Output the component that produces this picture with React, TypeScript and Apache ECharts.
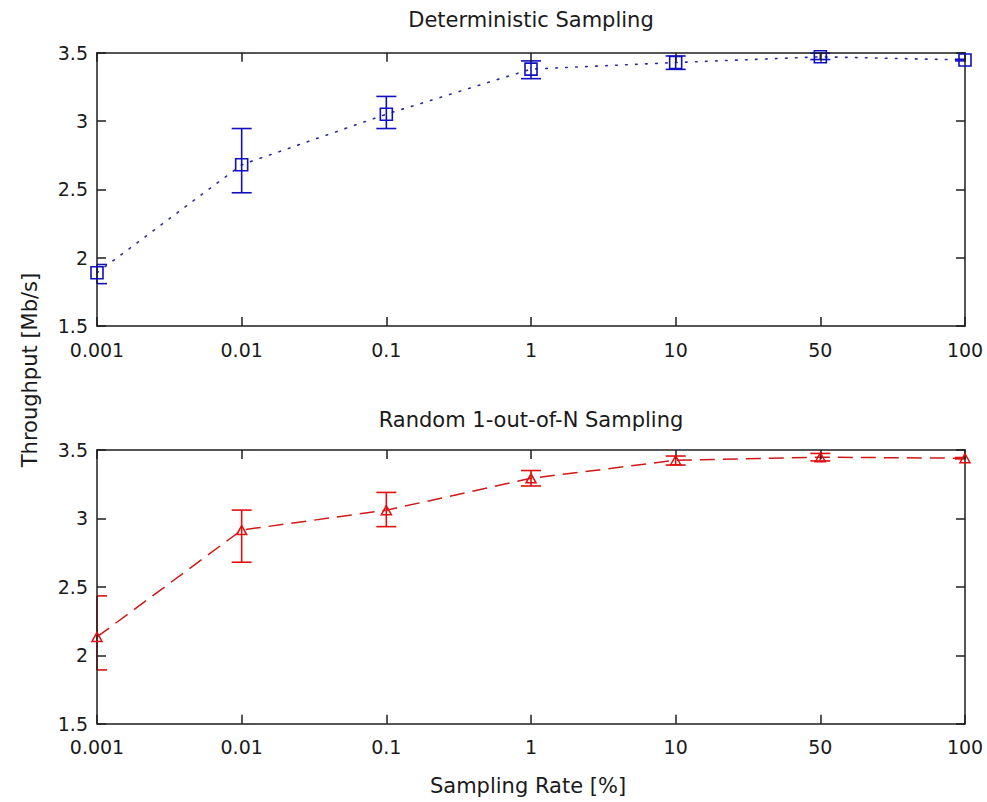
import React, { useEffect, useRef } from "react";
import * as echarts from "echarts";

const categories = ["0.001", "0.01", "0.1", "1", "10", "50", "100"];

const detMean = [1.89, 2.68, 3.05, 3.38, 3.428, 3.47, 3.447];
const detLow = [1.81, 2.475, 2.945, 3.31, 3.378, 3.45, 3.44];
const detHigh = [1.95, 2.945, 3.18, 3.44, 3.476, 3.497, 3.452];

const rndMean = [2.134, 2.915, 3.06, 3.293, 3.425, 3.447, 3.44];
const rndLow = [1.893, 2.68, 2.94, 3.237, 3.39, 3.42, 3.435];
const rndHigh = [2.434, 3.061, 3.19, 3.35, 3.456, 3.475, 3.445];

const yTicks = { min: 1.5, max: 3.5, interval: 0.5 };

const titles = ["Deterministic Sampling", "Random 1-out-of-N Sampling"];
const xAxisTitle = "Sampling Rate [%]";
const yAxisTitle = "Throughput [Mb/s]";

const FONT = "DejaVu Sans";
const TEXT = "#1a1a1a";
const AXIS = "#1e1e1e";
const BLUE = "#1010c0";
const RED = "#e01010";

function errorRender(color: string) {
  return (params: any, api: any) => {
    const idx = api.value(0);
    const lo = api.coord([idx, api.value(1)]);
    const hi = api.coord([idx, api.value(2)]);
    const cs = params.coordSys;
    const half = 10;
    const cx = lo[0];
    const x1 = Math.max(cx - half, cs.x);
    const x2 = Math.min(cx + half, cs.x + cs.width);
    const style = { stroke: color, lineWidth: 1.6, fill: null };
    const children: any[] = [
      { type: "line", shape: { x1: cx, y1: lo[1], x2: cx, y2: hi[1] }, style },
      { type: "line", shape: { x1, y1: lo[1], x2, y2: lo[1] }, style },
      { type: "line", shape: { x1, y1: hi[1], x2, y2: hi[1] }, style },
    ];
    return { type: "group", children };
  };
}

export default function App() {
  const ref = useRef<HTMLDivElement>(null);
  useEffect(() => {
    if (!ref.current) return;
    const chart = echarts.init(ref.current, undefined, { renderer: "svg" });

    const grids = [
      { left: 97, width: 868, top: 52.7, height: 273.3 },
      { left: 97, width: 868, top: 450, height: 273.7 },
    ];

    const xAxes: any[] = [];
    const yAxes: any[] = [];
    grids.forEach((_, g) => {
      const base = {
        type: "category",
        data: categories,
        gridIndex: g,
        boundaryGap: false,
        z: 5,
        axisLine: { onZero: false, lineStyle: { color: AXIS, width: 1.5 } },
        axisTick: { inside: true, length: 9, alignWithLabel: true, lineStyle: { color: AXIS, width: 1.5 } },
        splitLine: { show: false },
      };
      xAxes.push({
        ...base,
        position: "bottom",
        axisLabel: { interval: 0, fontFamily: FONT, fontSize: 19, color: TEXT, margin: 14 },
      });
      xAxes.push({ ...base, position: "top", axisLabel: { show: false } });
      const ybase = {
        type: "value",
        gridIndex: g,
        min: yTicks.min,
        max: yTicks.max,
        interval: yTicks.interval,
        z: 5,
        axisLine: { show: true, lineStyle: { color: AXIS, width: 1.5 } },
        axisTick: { show: true, inside: true, length: 9, lineStyle: { color: AXIS, width: 1.5 } },
        splitLine: { show: false },
      };
      yAxes.push({
        ...ybase,
        position: "left",
        axisLabel: {
          fontFamily: FONT,
          fontSize: 19,
          color: TEXT,
          margin: 9,
          padding: [6, 0, 0, 0],
          formatter: (v: number) => String(v),
        },
      });
      yAxes.push({ ...ybase, position: "right", axisLabel: { show: false } });
    });

    const mk = (arr: number[], lo: number[], hi: number[]) =>
      arr.map((_, i) => [i, lo[i], hi[i]]);

    const option: any = {
      animation: false,
      backgroundColor: "#ffffff",
      grid: grids,
      xAxis: xAxes,
      yAxis: yAxes,
      graphic: [
        {
          type: "text",
          x: 531,
          y: 19.6,
          style: { text: titles[0], fontFamily: FONT, fontSize: 21, fill: TEXT, textAlign: "center", textVerticalAlign: "middle" },
        },
        {
          type: "text",
          x: 531,
          y: 419.6,
          style: { text: titles[1], fontFamily: FONT, fontSize: 21, fill: TEXT, textAlign: "center", textVerticalAlign: "middle" },
        },
        {
          type: "text",
          x: 528,
          y: 785.6,
          style: { text: xAxisTitle, fontFamily: FONT, fontSize: 21, fill: TEXT, textAlign: "center", textVerticalAlign: "middle" },
        },
        {
          type: "text",
          x: 29.6,
          y: 370,
          rotation: Math.PI / 2,
          style: { text: yAxisTitle, fontFamily: FONT, fontSize: 21, fill: TEXT, textAlign: "center", textVerticalAlign: "middle" },
        },
      ],
      series: [
        {
          type: "line",
          xAxisIndex: 0,
          yAxisIndex: 0,
          data: detMean,
          showSymbol: false,
          lineStyle: { color: "#2a2a9a", width: 1.6, type: [1.6, 8.4], cap: "round" },
          z: 2,
        },
        {
          type: "custom",
          xAxisIndex: 0,
          yAxisIndex: 0,
          data: mk(detMean, detLow, detHigh),
          renderItem: errorRender(BLUE),
          z: 3,
        },
        {
          type: "scatter",
          xAxisIndex: 0,
          yAxisIndex: 0,
          data: detMean.map((v, i) => [i, v]),
          symbol: "rect",
          symbolSize: 12,
          itemStyle: { color: "rgba(0,0,0,0)", borderColor: BLUE, borderWidth: 1.6, opacity: 1 },
          z: 6,
        },
        {
          type: "line",
          xAxisIndex: 2,
          yAxisIndex: 2,
          data: rndMean,
          showSymbol: false,
          lineStyle: { color: "#d01818", width: 1.5, type: [15, 8] },
          z: 2,
        },
        {
          type: "custom",
          xAxisIndex: 2,
          yAxisIndex: 2,
          data: mk(rndMean, rndLow, rndHigh),
          renderItem: errorRender(RED),
          z: 3,
        },
        {
          type: "scatter",
          xAxisIndex: 2,
          yAxisIndex: 2,
          data: rndMean.map((v, i) => [i, v]),
          symbol: "triangle",
          symbolSize: [10, 9],
          itemStyle: { color: "rgba(0,0,0,0)", borderColor: RED, borderWidth: 1.5, opacity: 1 },
          z: 6,
        },
      ],
    };
    chart.setOption(option);
    return () => chart.dispose();
  }, []);

  return (
    <div
      ref={ref}
      style={{ position: "fixed", left: 0, top: 0, width: 987, height: 802, background: "#fff" }}
    />
  );
}
